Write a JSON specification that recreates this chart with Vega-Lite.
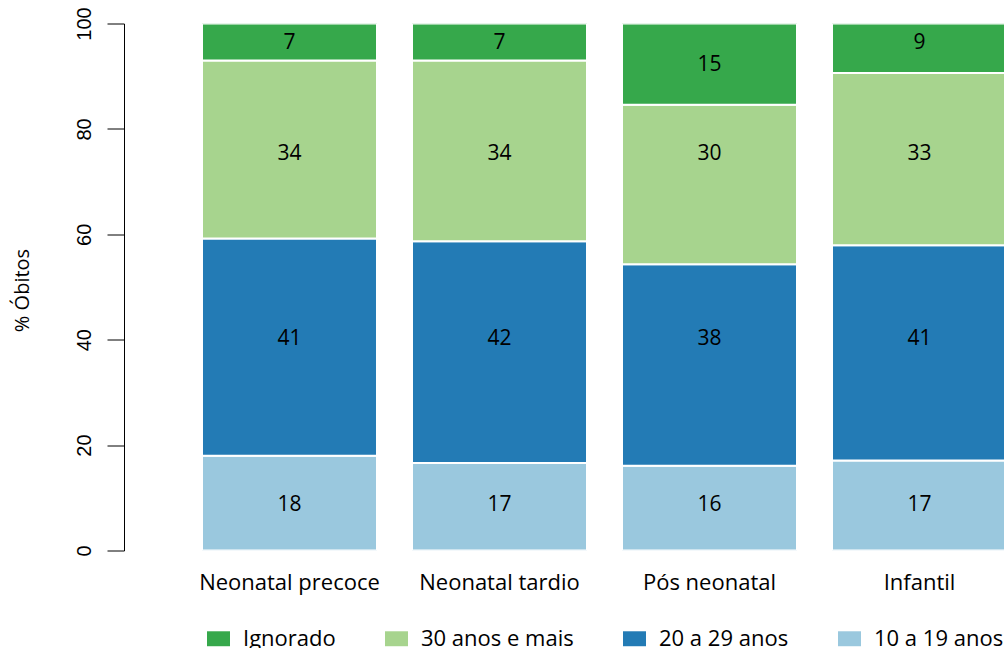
{
  "$schema": "https://vega.github.io/schema/vega-lite/v6.json",
  "width": 880,
  "height": 527,
  "autosize": {"type": "none"},
  "padding": {"left": 124, "top": 23.5, "right": 0, "bottom": 97.5},
  "background": "white",
  "config": {"view": {"stroke": null}, "font": "Open Sans"},
  "data": {
    "values": [
      {"grupo": "Neonatal precoce", "faixa": "10 a 19 anos", "pct": 18.0, "ylab": 8.6},
      {"grupo": "Neonatal precoce", "faixa": "20 a 29 anos", "pct": 41.2, "ylab": 40.1},
      {"grupo": "Neonatal precoce", "faixa": "30 anos e mais", "pct": 33.8, "ylab": 75.2},
      {"grupo": "Neonatal precoce", "faixa": "Ignorado", "pct": 7.0, "ylab": 96.3},
      {"grupo": "Neonatal tardio", "faixa": "10 a 19 anos", "pct": 16.6, "ylab": 8.6},
      {"grupo": "Neonatal tardio", "faixa": "20 a 29 anos", "pct": 42.1, "ylab": 40.1},
      {"grupo": "Neonatal tardio", "faixa": "30 anos e mais", "pct": 34.3, "ylab": 75.2},
      {"grupo": "Neonatal tardio", "faixa": "Ignorado", "pct": 7.0, "ylab": 96.3},
      {"grupo": "Pós neonatal", "faixa": "10 a 19 anos", "pct": 16.1, "ylab": 8.6},
      {"grupo": "Pós neonatal", "faixa": "20 a 29 anos", "pct": 38.2, "ylab": 40.1},
      {"grupo": "Pós neonatal", "faixa": "30 anos e mais", "pct": 30.3, "ylab": 75.2},
      {"grupo": "Pós neonatal", "faixa": "Ignorado", "pct": 15.4, "ylab": 92.1},
      {"grupo": "Infantil", "faixa": "10 a 19 anos", "pct": 17.1, "ylab": 8.6},
      {"grupo": "Infantil", "faixa": "20 a 29 anos", "pct": 40.8, "ylab": 40.1},
      {"grupo": "Infantil", "faixa": "30 anos e mais", "pct": 32.7, "ylab": 75.2},
      {"grupo": "Infantil", "faixa": "Ignorado", "pct": 9.4, "ylab": 96.3}
    ]
  },
  "encoding": {
    "x": {
      "field": "grupo",
      "type": "nominal",
      "sort": ["Neonatal precoce", "Neonatal tardio", "Pós neonatal", "Infantil"],
      "scale": {"range": [0, 961], "paddingInner": 0.1667, "paddingOuter": 0.3714},
      "axis": {
        "title": null,
        "domain": false,
        "ticks": false,
        "labelAngle": 0,
        "labelFont": "Open Sans",
        "labelFontSize": 22,
        "labelColor": "black",
        "labelPadding": 22,
        "labelLimit": 400
      }
    }
  },
  "layer": [
    {
      "transform": [
        {"stack": "pct", "groupby": ["grupo"], "sort": [{"field": "faixa", "order": "ascending"}], "as": ["y0", "y1"]}
      ],
      "mark": {"type": "bar", "stroke": "white", "strokeWidth": 2, "clip": true},
      "encoding": {
        "y": {
          "field": "y0",
          "type": "quantitative",
          "scale": {"domain": [0, 100], "nice": false},
          "axis": {
            "title": "% Óbitos",
            "values": [0, 20, 40, 60, 80, 100],
            "grid": false,
            "domainColor": "black",
            "domainWidth": 1,
            "tickColor": "black",
            "tickWidth": 1,
            "tickSize": 17,
            "labelAngle": -90,
            "labelAlign": "center",
            "labelBaseline": "bottom",
            "labelPadding": 13,
            "labelFont": "Liberation Sans",
            "labelFontSize": 20,
            "labelColor": "black",
            "titleFont": "Open Sans",
            "titleFontSize": 20,
            "titleFontWeight": "normal",
            "titleColor": "black",
            "titleAngle": -90,
            "titleX": -102,
            "titleY": 266.5,
            "titleAlign": "center",
            "titleBaseline": "middle"
          }
        },
        "y2": {"field": "y1"},
        "color": {
          "field": "faixa",
          "type": "nominal",
          "scale": {
            "domain": ["Ignorado", "30 anos e mais", "20 a 29 anos", "10 a 19 anos"],
            "range": ["#36a84b", "#a7d48e", "#237bb5", "#9ac8de"]
          },
          "legend": {
            "title": null,
            "orient": "none",
            "legendX": 83,
            "legendY": 603.5,
            "direction": "horizontal",
            "symbolType": "M-1,-0.65H1V0.65H-1Z",
            "symbolSize": 529,
            "symbolStrokeWidth": 0,
            "symbolStrokeColor": "transparent",
            "symbolOpacity": 1,
            "labelFont": "Open Sans",
            "labelFontSize": 22,
            "labelColor": "black",
            "labelOffset": 13,
            "labelLimit": 400,
            "columnPadding": 49,
            "padding": 0
          }
        }
      }
    },
    {
      "mark": {"type": "text", "font": "Open Sans", "fontSize": 21, "color": "black"},
      "encoding": {
        "y": {"field": "ylab", "type": "quantitative"},
        "text": {"field": "pct", "type": "quantitative", "format": ".0f"}
      }
    }
  ]
}
